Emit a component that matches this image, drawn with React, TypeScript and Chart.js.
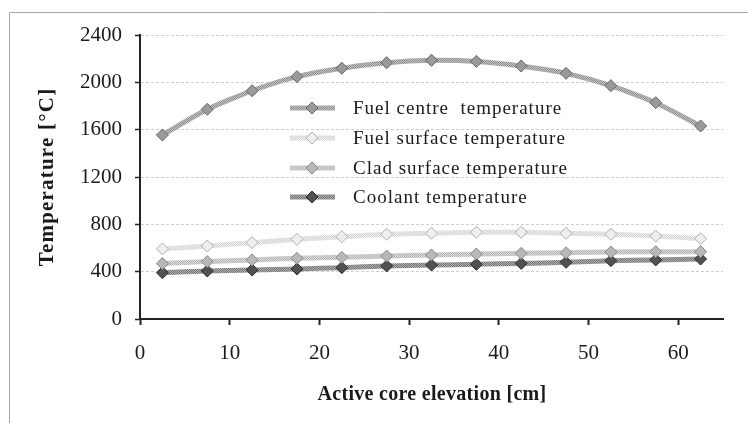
import React, { useEffect, useRef } from 'react';
import { Chart, registerables } from 'chart.js';

Chart.register(...registerables);

// ---- data ----
const elevations = [2.5, 7.5, 12.5, 17.5, 22.5, 27.5, 32.5, 37.5, 42.5, 47.5, 52.5, 57.5, 62.5];
const fuelCentre = [1555, 1772, 1929, 2048, 2119, 2166, 2186, 2177, 2138, 2076, 1972, 1828, 1631];
const fuelSurface = [592, 617, 645, 673, 696, 716, 724, 733, 733, 724, 716, 701, 679];
const cladSurface = [468, 485, 499, 513, 521, 532, 541, 549, 555, 560, 566, 569, 569];
const coolant = [391, 406, 414, 423, 434, 448, 456, 462, 470, 479, 493, 499, 507];
const seriesLabels = [
  'Fuel centre  temperature',
  'Fuel surface temperature',
  'Clad surface temperature',
  'Coolant temperature',
];
const yTickValues = [0, 400, 800, 1200, 1600, 2000, 2400];
const xTickValues = [0, 10, 20, 30, 40, 50, 60];
const xTitle = 'Active core elevation [cm]';
const yTitle = 'Temperature [°C]';

const W = 748;
const H = 423;

function makePattern(a: string, b: string): CanvasPattern | string {
  const c = document.createElement('canvas');
  c.width = 4;
  c.height = 4;
  const g = c.getContext('2d');
  if (!g) return a;
  g.fillStyle = b;
  g.fillRect(0, 0, 4, 4);
  g.fillStyle = a;
  for (let y = 0; y < 4; y++) {
    for (let x = 0; x < 4; x++) {
      if ((x + y) % 2 === 0) g.fillRect(x, y, 1, 1);
    }
  }
  const p = g.createPattern(c, 'repeat');
  return p || a;
}

export default function App() {
  const ref = useRef<HTMLCanvasElement | null>(null);

  useEffect(() => {
    const canvas = ref.current;
    if (!canvas) return;

    const styles = [
      { line: makePattern('#8c8c8c', '#c6c6c6'), fill: '#9a9a9a', border: '#666666', width: 5 },
      { line: makePattern('#d2d2d2', '#f0f0f0'), fill: '#eeeeee', border: '#b0b0b0', width: 5 },
      { line: makePattern('#b4b4b4', '#dcdcdc'), fill: '#b8b8b8', border: '#8a8a8a', width: 5 },
      { line: makePattern('#747474', '#b0b0b0'), fill: '#4e5357', border: '#2c2c2c', width: 5 },
    ];
    const series = [fuelCentre, fuelSurface, cladSurface, coolant];

    const datasets = series.map((vals, i) => ({
      label: seriesLabels[i],
      data: elevations.map((x, k) => ({ x, y: vals[k] })),
      borderColor: styles[i].line as any,
      borderWidth: styles[i].width,
      backgroundColor: styles[i].fill,
      pointBackgroundColor: styles[i].fill,
      pointBorderColor: styles[i].border,
      pointBorderWidth: 1,
      pointStyle: 'rectRot' as const,
      pointRadius: 6,
      tension: 0.2,
      fill: false,
    }));

    const frame = {
      id: 'frame',
      beforeDraw(chart: any) {
        const ctx = chart.ctx;
        ctx.save();
        ctx.fillStyle = '#ffffff';
        ctx.fillRect(0, 0, W, H);
        ctx.strokeStyle = '#a8a8a8';
        ctx.lineWidth = 1;
        ctx.beginPath();
        ctx.moveTo(9.5, H);
        ctx.lineTo(9.5, 12.5);
        ctx.lineTo(W, 12.5);
        ctx.stroke();
        ctx.restore();
      },
    };

    const extras = {
      id: 'extras',
      afterDraw(chart: any) {
        const ctx = chart.ctx as CanvasRenderingContext2D;
        // axis titles
        ctx.save();
        ctx.fillStyle = '#1a1a1a';
        ctx.textAlign = 'center';
        ctx.textBaseline = 'middle';
        (ctx as any).letterSpacing = '0.3px';
        ctx.font = "bold 20px 'Liberation Serif', serif";
        ctx.fillText(xTitle, 432, 395);
        ctx.translate(48, 177);
        ctx.rotate(-Math.PI / 2);
        (ctx as any).letterSpacing = '1.2px';
        ctx.font = "bold 21px 'Liberation Serif', serif";
        ctx.fillText(yTitle, 0, 0);
        ctx.restore();

        // legend
        const rows = [108, 138, 168, 197];
        ctx.save();
        chart.data.datasets.forEach((ds: any, i: number) => {
          const y = rows[i];
          ctx.strokeStyle = ds.borderColor;
          ctx.lineWidth = 5;
          ctx.beginPath();
          ctx.moveTo(290, y);
          ctx.lineTo(335, y);
          ctx.stroke();
          const cx = 312;
          const r = 6;
          ctx.fillStyle = ds.pointBackgroundColor;
          ctx.strokeStyle = ds.pointBorderColor;
          ctx.lineWidth = 1;
          ctx.beginPath();
          ctx.moveTo(cx - r, y);
          ctx.lineTo(cx, y - r);
          ctx.lineTo(cx + r, y);
          ctx.lineTo(cx, y + r);
          ctx.closePath();
          ctx.fill();
          ctx.stroke();
          ctx.fillStyle = '#1a1a1a';
          ctx.textAlign = 'left';
          ctx.textBaseline = 'middle';
          (ctx as any).letterSpacing = '1px';
          ctx.font = "19px 'Liberation Serif', serif";
          ctx.fillText(ds.label, 353, y + 1);
        });
        ctx.restore();
      },
    };

    const chart = new Chart(canvas, {
      type: 'line',
      data: { datasets },
      options: {
        responsive: false,
        animation: false,
        devicePixelRatio: 1,
        layout: { padding: { left: 0, top: 35, right: 25, bottom: 0 } },
        plugins: {
          legend: { display: false },
          tooltip: { enabled: false },
          title: { display: false },
        },
        scales: {
          x: {
            type: 'linear',
            min: 0,
            max: 65,
            afterFit: (s: any) => {
              s.height = H - 319;
            },
            afterBuildTicks: (s: any) => {
              s.ticks = xTickValues.map((v) => ({ value: v }));
            },
            ticks: {
              color: '#1a1a1a',
              font: { family: "'Liberation Serif', serif", size: 21 },
              padding: 16,
              maxRotation: 0,
              callback: (v: any) => String(v),
            },
            grid: {
              drawOnChartArea: false,
              drawTicks: true,
              tickLength: 6,
              tickColor: '#222222',
              tickWidth: 2,
            },
            border: { display: true, color: '#222222', width: 2 },
          },
          y: {
            type: 'linear',
            min: 0,
            max: 2400,
            afterFit: (s: any) => {
              s.width = 140;
            },
            afterBuildTicks: (s: any) => {
              s.ticks = yTickValues.map((v) => ({ value: v }));
            },
            ticks: {
              color: '#1a1a1a',
              font: { family: "'Liberation Serif', serif", size: 21 },
              padding: 13,
              callback: (v: any) => String(v),
            },
            grid: {
              drawOnChartArea: true,
              drawTicks: true,
              tickLength: 5,
              color: '#cfcfcf',
              lineWidth: 1,
              tickColor: '#222222',
              tickWidth: 1.5,
            },
            border: { display: true, color: '#222222', width: 2, dash: [3, 2] },
          },
        },
      },
      plugins: [frame, extras],
    });

    return () => {
      chart.destroy();
    };
  }, []);

  return (
    <div style={{ position: 'fixed', left: 0, top: 0, width: W, height: H, background: '#fff' }}>
      <canvas ref={ref} width={W} height={H} style={{ width: W, height: H, display: 'block' }} />
    </div>
  );
}
